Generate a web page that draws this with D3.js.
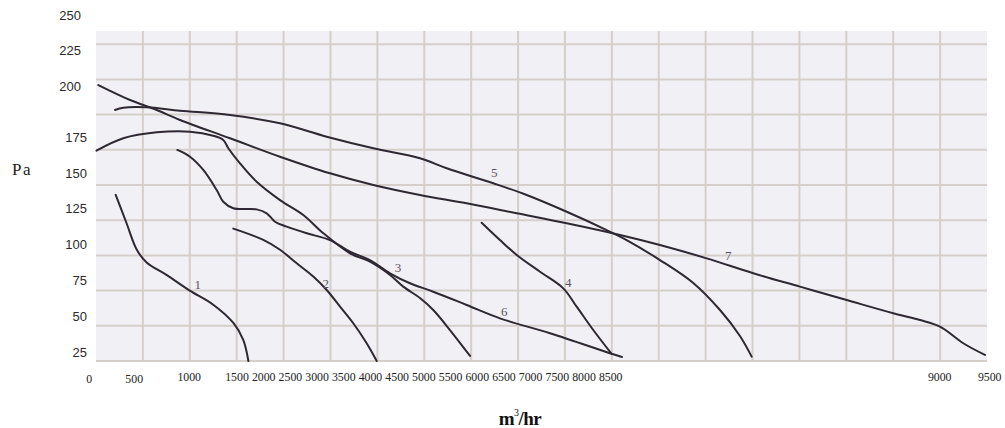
<!DOCTYPE html>
<html>
<head>
<meta charset="utf-8">
<script src="https://cdn.jsdelivr.net/npm/d3@7"></script>
<style>
  html, body { margin: 0; padding: 0; background: #ffffff; }
  svg { display: block; }
</style>
</head>
<body>
<script>
// ---------------- DATA ----------------
const xTickLabels = [0, 500, 1000, 1500, 2000, 2500, 3000, 3500, 4000, 4500, 5000, 5500, 6000, 6500, 7000, 7500, 8000, 8500, 9000, 9500];
const yTickLabels = [25, 50, 75, 100, 125, 150, 175, 200, 225, 250];
const curveNames = ["1", "2", "3", "4", "5", "6", "7"];

// each curve: [m3/hr, Pa]
const curve1 = [[210,118],[325,98],[435,79],[540,70],[755,61],[1000,50],[1250,40],[1465,27],[1570,15],[1625,0]];
const curve2 = [[1464,94],[1784,86],[1962,79],[2140,69.4],[2317,60],[2460,50.4],[2602,38.6],[2743,26.8],[2886,12.6],[2993,0]];
const curve3 = [[5,149.4],[291,158.2],[647,162.4],[1002,162.9],[1251,160],[1357,157],[1411,151.1],[1535,140.4],[1713,127.3],[1962,114.3],[2210,103.7],[2424,90.7],[2708,76.5],[2921,70.5],[3135,61.1],[3276,52.8],[3454,44.7],[3596,36.2],[3774,22],[3988,3.6]];
const curve4 = [[4112,98.2],[4307,85.9],[4486,75.3],[4734,63.4],[4982,51.6],[5125,38.6],[5302,22],[5498,5]];
const curve5 = [[203,178.3],[291,179.9],[541,180.2],[896,177.8],[1429,174.7],[1962,168.8],[2460,159.3],[2957,151.1],[3454,144],[3739,136.9],[4236,126.2],[4592,117.9],[5019,106],[5445,93],[5658,85.9],[6013,71.7],[6368,55.4],[6653,36.2],[6866,17.8],[6991,3.1]];
const curve6 = [[867,149.9],[1002,145.1],[1144,135.7],[1287,121.4],[1357,113.1],[1464,108.5],[1713,107.7],[1820,104.9],[1909,98.9],[2033,95.4],[2247,90.7],[2495,85.9],[2708,77.6],[2921,71.7],[3135,62.3],[3348,55.2],[3596,49.2],[3952,39.8],[4307,30.3],[4841,19.7],[5480,5.5],[5608,2.8]];
const curve7 = [[25,196],[363,185.4],[629,178.8],[896,171.2],[1429,158.2],[1962,145.1],[2495,133.3],[2957,125],[3454,117.9],[3952,112],[4486,104.9],[5019,97.8],[5587,89.5],[6013,82.4],[6511,72.9],[7008,62.3],[7506,52.8],[8004,43.3],[8501,33.9],[8785,29.1],[8999,24.4],[9247,12.6],[9478,4.3]];
const curves = [curve1, curve2, curve3, curve4, curve5, curve6, curve7];

// curve number label anchor points [m3/hr, Pa]
const curveLabelX = [1084, 2449, 3220, 5036, 4247, 4353, 6742];
const curveLabelY = [54.5, 54.7, 66.1, 55.6, 133.7, 35.5, 74.6];

// ---------------- LAYOUT ----------------
const W = 1005, H = 428;
const svg = d3.select("body").append("svg").attr("width", W).attr("height", H);

const x = d3.scaleLinear().domain([0, 9500]).range([96, 987]);
const y = d3.scaleLinear().domain([0, 250]).range([361, 9]);
const plotTopValue = 234.4;

// tick label placement scales (the original print places the labels unevenly)
const xLabelPos = d3.scaleLinear()
  .domain([0, 500, 1000, 1500, 8500, 9000, 9500])
  .range([89.3, 134.2, 189.2, 237, 610.7, 939.7, 989.7]);
const yLabelPos = d3.scaleLinear()
  .domain([25, 175, 200, 250])
  .range([352.3, 137.3, 86, 15]);

// background paper
svg.append("rect")
  .attr("x", x(0)).attr("y", y(plotTopValue))
  .attr("width", x(9500) - x(0)).attr("height", y(0) - y(plotTopValue))
  .attr("fill", "#f1f0f4");

const gridColor = "#d5cfcb";
// vertical grid
svg.append("g").selectAll("line")
  .data(d3.range(500, 9500, 500))
  .join("line")
  .attr("x1", d => x(d)).attr("x2", d => x(d))
  .attr("y1", y(plotTopValue)).attr("y2", y(0))
  .attr("stroke", gridColor).attr("stroke-width", 2);
// horizontal grid
svg.append("g").selectAll("line")
  .data(d3.range(0, 250, 25))
  .join("line")
  .attr("x1", x(0)).attr("x2", x(9500))
  .attr("y1", d => y(d)).attr("y2", d => y(d))
  .attr("stroke", gridColor).attr("stroke-width", 2);

// curves
const line = d3.line()
  .x(d => x(d[0])).y(d => y(d[1]))
  .curve(d3.curveCatmullRom.alpha(0.5));
svg.append("g").selectAll("path")
  .data(curves)
  .join("path")
  .attr("d", line)
  .attr("fill", "none")
  .attr("stroke", "#2e2833")
  .attr("stroke-width", 2)
  .attr("stroke-linecap", "round")
  .attr("stroke-linejoin", "round");

// curve number labels
svg.append("g").selectAll("text")
  .data(curveNames)
  .join("text")
  .attr("x", (d, i) => x(curveLabelX[i]))
  .attr("y", (d, i) => y(curveLabelY[i]))
  .attr("text-anchor", "middle")
  .attr("dominant-baseline", "central")
  .attr("font-family", "'Liberation Serif', 'Times New Roman', serif")
  .attr("font-size", 13)
  .attr("fill", "#5a555c")
  .text(d => d);

// y tick labels
svg.append("g").selectAll("text")
  .data(yTickLabels)
  .join("text")
  .attr("x", d => d >= 200 ? 81 : 87)
  .attr("y", d => yLabelPos(d))
  .attr("text-anchor", "end")
  .attr("dominant-baseline", "central")
  .attr("font-family", "'Liberation Sans', Arial, sans-serif")
  .attr("font-size", 13)
  .attr("fill", "#2a2a2a")
  .text(d => d);

// x tick labels
svg.append("g").selectAll("text")
  .data(xTickLabels)
  .join("text")
  .attr("x", d => xLabelPos(d))
  .attr("y", d => d <= 500 ? 379 : 376.5)
  .attr("text-anchor", "middle")
  .attr("dominant-baseline", "central")
  .attr("font-family", "'Liberation Serif', 'Times New Roman', serif")
  .attr("font-size", 11.8)
  .attr("fill", "#222")
  .text(d => d);

// axis titles
svg.append("text")
  .attr("x", 22).attr("y", 169)
  .attr("text-anchor", "middle")
  .attr("dominant-baseline", "central")
  .attr("font-family", "'Liberation Serif', 'Times New Roman', serif")
  .attr("font-size", 17)
  .attr("letter-spacing", 1.5)
  .attr("fill", "#222")
  .text("Pa");

const xt = svg.append("text")
  .attr("x", 520).attr("y", 425)
  .attr("text-anchor", "middle")
  .attr("font-family", "'Liberation Serif', 'Times New Roman', serif")
  .attr("font-weight", "bold")
  .attr("font-size", 19)
  .attr("letter-spacing", -0.5)
  .attr("fill", "#111");
xt.append("tspan").text("m");
xt.append("tspan").attr("dy", -9).attr("font-size", 10).attr("font-weight", "normal").text("3");
xt.append("tspan").attr("dy", 9).text("/hr");
</script>
</body>
</html>
